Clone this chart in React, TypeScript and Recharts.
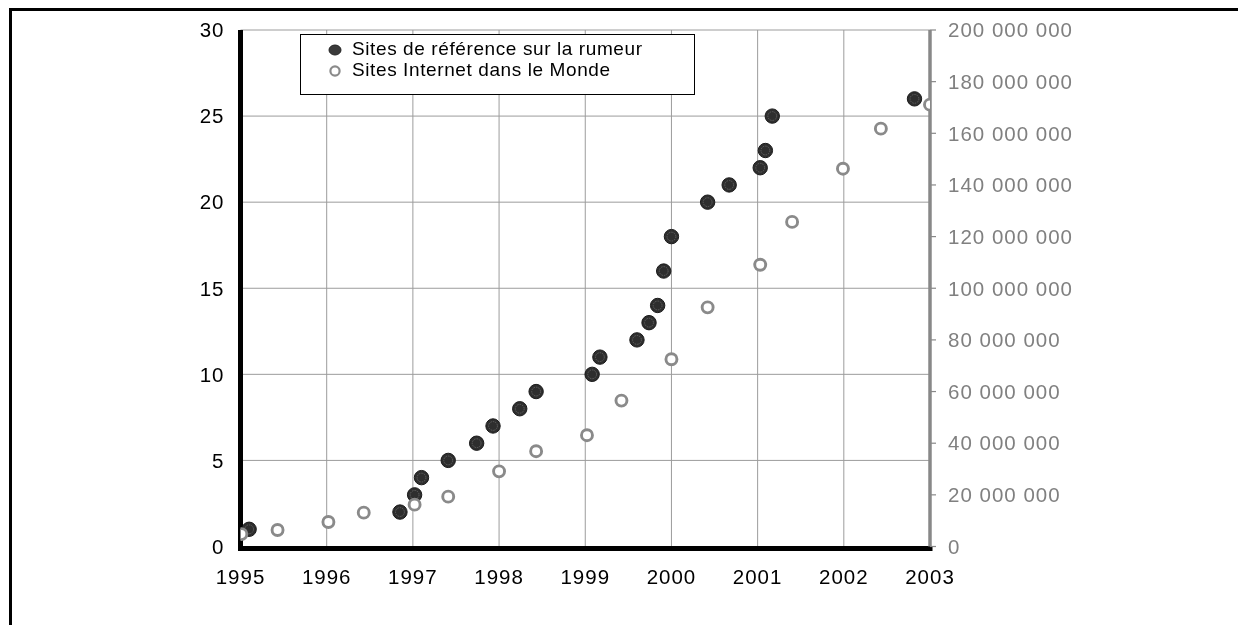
import React from 'react';
import { ScatterChart, Scatter, XAxis, YAxis, CartesianGrid, Legend } from 'recharts';

// Sites de référence sur la rumeur (left axis)
const rumorYears = [1995.1, 1996.85, 1997.02, 1997.1, 1997.41, 1997.74, 1997.93, 1998.24, 1998.43, 1999.08, 1999.17, 1999.6, 1999.74, 1999.84, 1999.91, 2000.0, 2000.42, 2000.67, 2001.03, 2001.09, 2001.17, 2002.82];
const rumorCounts = [1, 2, 3, 4, 5, 6, 7, 8, 9, 10, 11, 12, 13, 14, 16, 18, 20, 21, 22, 23, 25, 26];

// Sites Internet dans le Monde (right axis)
const webYears = [1995.01, 1995.43, 1996.02, 1996.43, 1997.02, 1997.41, 1998.0, 1998.43, 1999.02, 1999.42, 2000.0, 2000.42, 2001.03, 2001.4, 2001.99, 2002.43, 2003.0];
const webCounts = [4800000, 6400000, 9500000, 13100000, 16200000, 19300000, 29100000, 36900000, 43100000, 56500000, 72500000, 92600000, 109100000, 125700000, 146300000, 161800000, 171100000];

const yearTicks = [1995, 1996, 1997, 1998, 1999, 2000, 2001, 2002, 2003];
const leftTicks = [0, 5, 10, 15, 20, 25, 30];
const rightTicks = [0, 20000000, 40000000, 60000000, 80000000, 100000000, 120000000, 140000000, 160000000, 180000000, 200000000];

const rumorLabel = 'Sites de référence sur la rumeur';
const webLabel = 'Sites Internet dans le Monde';

const rumorData = rumorYears.map((x, i) => ({ x, y: rumorCounts[i] }));
const webData = webYears.map((x, i) => ({ x, y: webCounts[i] }));

const FONT = '"Liberation Sans", Arial, sans-serif';

const fmtSpaces = (v: number) => String(Math.round(v)).replace(/\B(?=(\d{3})+(?!\d))/g, ' ');

const DarkDot = (props: any) => {
  const { cx, cy } = props;
  if (cx == null || cy == null) return null;
  return (
    <g>
      <circle cx={cx} cy={cy} r={7.2} fill="#2e2e2e" stroke="#1a1a1a" strokeWidth={1} />
      <circle cx={cx} cy={cy} r={4.4} fill="none" stroke="#6a6a6a" strokeWidth={0.8} strokeDasharray="1.5 1" />
    </g>
  );
};

const RingDot = (props: any) => {
  const { cx, cy } = props;
  if (cx == null || cy == null) return null;
  return <circle cx={cx} cy={cy} r={5.5} fill="#fff" stroke="#8a8a8a" strokeWidth={2.9} />;
};

const LegendBox = () => (
  <div
    style={{
      position: 'relative',
      width: 395,
      height: 61,
      boxSizing: 'border-box',
      border: '1px solid #000',
      background: '#fff',
      fontFamily: FONT,
      fontSize: 19,
      letterSpacing: 0.6,
      color: '#000',
    }}
  >
    <svg style={{ position: 'absolute', left: 26, top: 7 }} width={16} height={16}>
      <ellipse cx={8} cy={8} rx={6} ry={5} fill="#3a3a3a" stroke="#222" strokeWidth={1} />
    </svg>
    <span style={{ position: 'absolute', left: 51, top: 3, lineHeight: '22px', whiteSpace: 'nowrap' }}>{rumorLabel}</span>
    <svg style={{ position: 'absolute', left: 26, top: 28 }} width={16} height={16}>
      <circle cx={8} cy={8} r={4.6} fill="#fff" stroke="#8a8a8a" strokeWidth={2.2} />
    </svg>
    <span style={{ position: 'absolute', left: 51, top: 24, lineHeight: '22px', whiteSpace: 'nowrap' }}>{webLabel}</span>
  </div>
);

const tickFont = { fontSize: 20.5, letterSpacing: 1.0, fontFamily: FONT };

export default function App() {
  return (
    <div style={{ position: 'relative', width: 1222, height: 609, background: '#fff' }}>
      <style>{'html{overflow:hidden;}'}</style>
      <div style={{ position: 'fixed', left: 9, top: 8, width: 1229, height: 2.5, background: '#000' }} />
      <div style={{ position: 'fixed', left: 9, top: 8, width: 3, height: 617, background: '#000' }} />
      <div style={{ position: 'absolute', left: 0, top: 0 }}>
        <ScatterChart
          width={1222}
          height={609}
          margin={{ top: 22, right: 150, bottom: 30.5, left: 172.5 }}
          style={{ fontFamily: FONT }}
        >
          <CartesianGrid yAxisId="left" stroke="#9c9c9c" strokeWidth={1} />
          <XAxis
            type="number"
            dataKey="x"
            domain={[1995, 2003]}
            ticks={yearTicks}
            allowDataOverflow
            height={40}
            tickLine={false}
            tickSize={6}
            tickMargin={17}
            axisLine={{ stroke: '#000', strokeWidth: 5, strokeLinecap: 'square', transform: 'translate(0,2)' }}
            tick={{ fill: '#000', ...tickFont }}
          />
          <YAxis
            yAxisId="left"
            type="number"
            dataKey="y"
            domain={[0, 30]}
            ticks={leftTicks}
            width={60}
            tickLine={false}
            tickSize={6}
            tickMargin={10}
            axisLine={{ stroke: '#000', strokeWidth: 5 }}
            tick={{ fill: '#000', ...tickFont }}
          />
          <YAxis
            yAxisId="right"
            orientation="right"
            type="number"
            dataKey="y"
            domain={[0, 200000000]}
            ticks={rightTicks}
            width={150}
            tickSize={6}
            tickMargin={12}
            tickFormatter={fmtSpaces}
            tickLine={{ stroke: '#888', strokeWidth: 1.2 }}
            axisLine={{ stroke: '#888', strokeWidth: 3.5 }}
            tick={{ fill: '#808080', ...tickFont }}
          />
          <Legend
            layout="vertical"
            align="center"
            verticalAlign="middle"
            wrapperStyle={{ left: 292, top: 26, width: 395, height: 61 }}
            content={() => <LegendBox />}
          />
          <Scatter
            name={rumorLabel}
            data={rumorData}
            yAxisId="left"
            shape={DarkDot}
            isAnimationActive={false}
          />
          <Scatter
            name={webLabel}
            data={webData}
            yAxisId="right"
            shape={RingDot}
            isAnimationActive={false}
          />
        </ScatterChart>
      </div>
    </div>
  );
}
